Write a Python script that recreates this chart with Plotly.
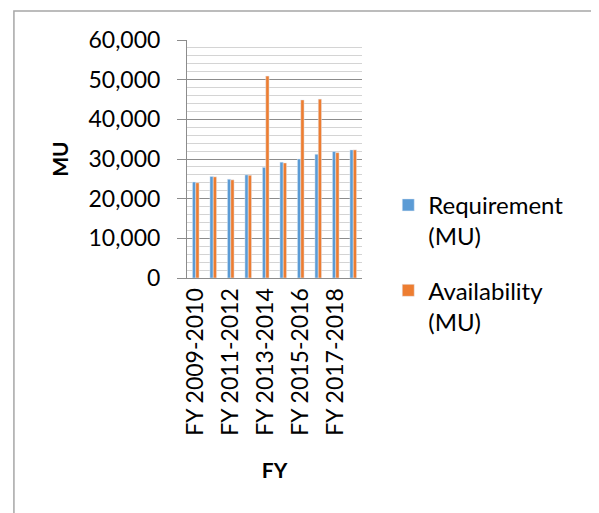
import plotly.graph_objects as go

years = ["FY 2009-2010", "FY 2010-2011", "FY 2011-2012", "FY 2012-2013", "FY 2013-2014",
         "FY 2014-2015", "FY 2015-2016", "FY 2016-2017", "FY 2017-2018", "FY 2018-2019"]
requirement = [24200, 25600, 24900, 26000, 27900, 29200, 30000, 31200, 31900, 32300]
availability = [24000, 25500, 24750, 25900, 50900, 29000, 44900, 45100, 31600, 32300]
shown_labels = years[::2]

font_name = "Lato, Open Sans, sans-serif"

fig = go.Figure()
fig.add_trace(go.Bar(x=years, y=requirement, name="Requirement<br>(MU)",
                     marker_color="#5B9BD5", legendgroup="req"))
fig.add_trace(go.Bar(x=years, y=availability, name="Availability<br>(MU)",
                     marker_color="#ED7D31", legendgroup="avail"))

# page body adds 8px, so the figure is 8px smaller and shifted
fig.update_layout(
    width=591, height=505,
    margin=dict(l=179, r=237, t=32, b=235),
    paper_bgcolor="white", plot_bgcolor="white",
    font=dict(family=font_name, size=23, color="black"),
    barmode="group", bargap=0.62, bargroupgap=0,
    legend=dict(x=1.15, y=0.40, xanchor="left", yanchor="top", valign="top",
                font=dict(size=24), tracegroupgap=20, bgcolor="rgba(0,0,0,0)"),
)

fig.update_xaxes(
    tickmode="array", tickvals=shown_labels, ticktext=shown_labels,
    tickangle=-90, ticks="", showline=True, linecolor="#8c8c8c", linewidth=1,
    title=dict(text="<b>FY</b>", font=dict(size=21), standoff=28),
)
fig.update_yaxes(
    range=[0, 60000], dtick=10000, tickformat=",d",
    showgrid=True, gridcolor="#8c8c8c", gridwidth=1,
    minor=dict(dtick=2000, showgrid=True, gridcolor="#d4d4d4", gridwidth=1),
    ticks="outside", ticklen=9, tickcolor="#8c8c8c", ticklabelstandoff=12,
    showline=True, linecolor="#8c8c8c", linewidth=1,
    zeroline=False,
    title=dict(text="<b>MU</b>", font=dict(size=21), standoff=14),
)

# outer chart border (left and top visible)
fig.add_shape(type="rect", xref="paper", yref="paper",
              x0=-0.989, x1=2.5, y0=-1.1, y1=1.122,
              line=dict(color="#a6a6a6", width=1.5), fillcolor="rgba(0,0,0,0)", layer="below")

fig.write_html("out.html")
